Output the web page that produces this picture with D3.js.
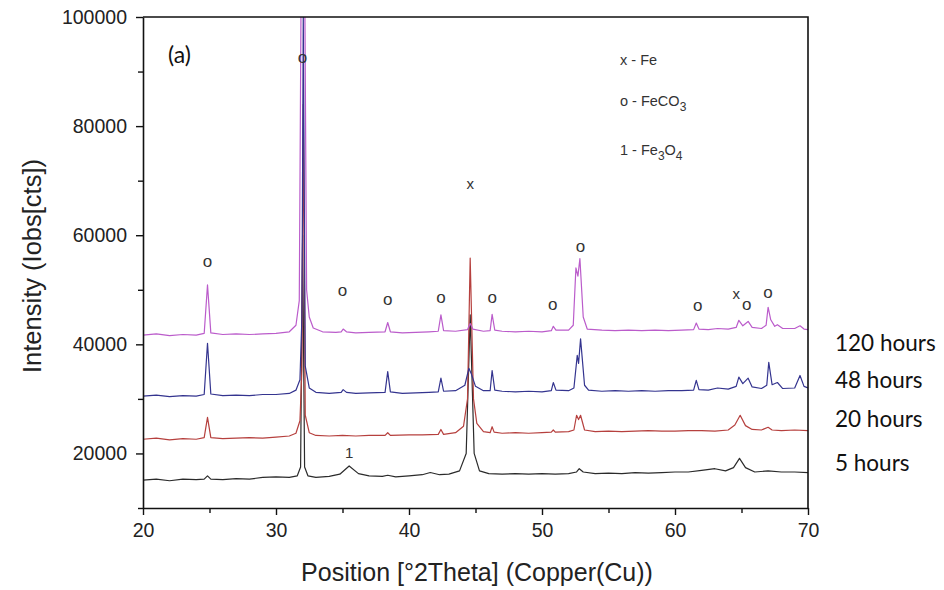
<!DOCTYPE html>
<html>
<head>
<meta charset="utf-8">
<script src="https://cdn.jsdelivr.net/npm/d3@7"></script>
<style>
  body { margin: 0; background: #fff; }
  svg { display: block; }
</style>
</head>
<body>
<div id="chart"></div>
<script>
// XRD patterns, [2theta, counts]
const hours5 = [
  [20, 15100], [21, 15300], [22, 15000], [23, 15300], [24, 15200], [24.6, 15300], [24.85, 15900], [25.1, 15300],
  [26, 15200], [27, 15400], [28, 15300], [29, 15600], [30, 15700], [31, 15600], [31.6, 15900], [31.85, 17500],
  [32.0, 60000], [32.15, 17500], [32.4, 15900], [33, 15600], [34, 15800], [34.8, 16200], [35.5, 17700], [36.2, 16300],
  [37, 15900], [38, 15800], [38.4, 16000], [39, 15700], [40, 15900], [41, 16100], [41.6, 16500], [42.3, 16100],
  [43, 16200], [43.8, 16800], [44.3, 20000], [44.6, 45400], [44.9, 20000], [45.3, 16800], [46, 16300], [47, 16200],
  [48, 16300], [49, 16200], [50, 16300], [51, 16200], [52, 16300], [52.6, 16600], [52.8, 17200], [53.1, 16600],
  [54, 16300], [55, 16400], [56, 16300], [57, 16500], [58, 16400], [59, 16500], [60, 16600], [61, 16600],
  [62, 16900], [63, 17200], [63.8, 16800], [64.4, 17400], [64.85, 19100], [65.3, 17400], [66, 16600], [67, 16800],
  [68, 16600], [69, 16600], [70, 16500]
];
const hours20 = [
  [20, 22600], [21, 22800], [22, 22500], [23, 22700], [24, 22600], [24.6, 22900], [24.85, 26600], [25.1, 22900],
  [26, 22700], [27, 22800], [28, 22900], [29, 22800], [30, 23000], [31, 23200], [31.5, 23700], [31.8, 26000],
  [31.95, 35500], [32.05, 84000], [32.2, 27000], [32.5, 23800], [33, 23300], [34, 23200], [35, 23300], [36, 23200],
  [37, 23300], [38.2, 23300], [38.4, 23800], [38.6, 23300], [40, 23400], [41, 23400], [42.2, 23500], [42.4, 24400],
  [42.6, 23500], [43.5, 23800], [44.1, 25000], [44.4, 30000], [44.6, 55800], [44.85, 30000], [45.1, 25500], [45.6, 24000],
  [46.1, 23800], [46.25, 24900], [46.4, 23900], [47, 23700], [48, 23800], [49, 23700], [50, 23800], [50.7, 23900],
  [50.85, 24300], [51, 23900], [52, 24000], [52.4, 24300], [52.6, 27000], [52.75, 26200], [52.9, 27000], [53.2, 24300],
  [54, 24000], [55, 24100], [56, 24000], [57, 24100], [58, 24200], [59, 24100], [60, 24100], [61, 24200],
  [62, 24200], [63, 24100], [64, 24300], [64.5, 25200], [64.9, 27000], [65.3, 25100], [65.8, 24400], [66.5, 24300],
  [67.0, 24800], [67.3, 24300], [68, 24200], [69, 24300], [70, 24200]
];
const hours48 = [
  [20, 30500], [21, 30700], [22, 30400], [23, 30600], [24, 30500], [24.6, 30800], [24.85, 40200], [25.1, 30900],
  [26, 30600], [27, 30700], [28, 30600], [29, 30800], [30, 30800], [31, 31000], [31.5, 31600], [31.8, 33500],
  [31.95, 45000], [32.05, 100500], [32.2, 36000], [32.5, 32000], [33, 31200], [34, 31000], [34.9, 31200], [35.05, 31700],
  [35.3, 31200], [36, 31000], [37, 31100], [38.2, 31200], [38.4, 35000], [38.6, 31300], [39.5, 31000], [40.5, 31100],
  [41.5, 31200], [42.2, 31300], [42.4, 33800], [42.6, 31400], [43.5, 31500], [44.2, 32500], [44.5, 35600], [44.7, 34500],
  [45, 32300], [45.6, 31500], [46.1, 31500], [46.25, 35200], [46.45, 31600], [47, 31400], [48, 31300], [49, 31400],
  [50, 31300], [50.7, 31500], [50.85, 33000], [51.05, 31600], [52, 31500], [52.4, 32000], [52.65, 38000], [52.75, 36500],
  [52.9, 41000], [53.2, 32500], [53.5, 31600], [54.5, 31400], [55.5, 31500], [56.5, 31400], [57.5, 31500], [58.5, 31400],
  [59.5, 31500], [60.5, 31500], [61.4, 31600], [61.6, 33400], [61.8, 31700], [62.5, 31600], [63.2, 32000], [64, 31800],
  [64.6, 32300], [64.8, 34000], [65.1, 32800], [65.5, 33800], [65.8, 32200], [66.5, 31900], [66.9, 32500], [67.05, 36700],
  [67.3, 32600], [67.7, 33000], [68.1, 31900], [69, 32000], [69.4, 34300], [69.7, 32300], [70, 32000]
];
const hours120 = [
  [20, 41700], [21, 41900], [22, 41600], [23, 41800], [24, 41700], [24.6, 42000], [24.85, 50900], [25.1, 42100],
  [26, 41800], [27, 41900], [28, 41800], [29, 41900], [30, 42000], [31, 42300], [31.5, 43500], [31.75, 48000],
  [31.9, 110000], [32.15, 110000], [32.3, 50000], [32.5, 45000], [32.8, 43000], [33.5, 42300], [34.5, 42200], [34.9, 42300],
  [35.05, 42800], [35.3, 42300], [36, 42100], [37, 42200], [38.2, 42300], [38.4, 44000], [38.6, 42300], [39.5, 42100],
  [40.5, 42200], [41.5, 42300], [42.2, 42400], [42.4, 45400], [42.6, 42500], [43.5, 42400], [44.4, 42700], [44.6, 43800],
  [44.8, 42800], [45.6, 42400], [46.1, 42500], [46.25, 45500], [46.45, 42600], [47, 42400], [48, 42300], [49, 42400],
  [50, 42300], [50.7, 42500], [50.85, 43300], [51.05, 42600], [52, 42600], [52.35, 43500], [52.55, 54000], [52.7, 52500],
  [52.85, 55700], [53.1, 45000], [53.4, 42800], [54.5, 42600], [55.5, 42500], [56.5, 42600], [57.5, 42500], [58.5, 42600],
  [59.5, 42500], [60.5, 42600], [61.4, 42700], [61.6, 43900], [61.8, 42800], [62.5, 42700], [63.2, 42900], [64, 42800],
  [64.6, 43100], [64.8, 44400], [65.1, 43400], [65.5, 44200], [65.8, 43100], [66.5, 42900], [66.85, 43500], [67.0, 46800],
  [67.2, 44500], [67.5, 43300], [67.7, 43600], [68.1, 42900], [69, 42900], [69.4, 43400], [69.7, 42800], [70, 42700]
];

const seriesNames = ["5 hours", "20 hours", "48 hours", "120 hours"];
const seriesColors = ["#2b2b2b", "#b6403e", "#34348f", "#bb5ccb"];
// where each name sits on the right (counts)
const seriesLabelY = [18200, 26200, 33500, 40200];

const xTicks = [20, 30, 40, 50, 60, 70];
const xMinor = [25, 35, 45, 55, 65];
const yTicks = [20000, 40000, 60000, 80000, 100000];
const yMinor = [10000, 30000, 50000, 70000, 90000];

// phase markers above the peaks: symbol, 2theta, counts
const markers = [
  ["o", 24.85, 55300], ["o", 32.0, 92600], ["o", 35.0, 50000], ["o", 38.4, 48300],
  ["o", 42.4, 48700], ["x", 44.6, 69500], ["o", 46.25, 48700], ["o", 50.8, 47400],
  ["o", 52.9, 58000], ["o", 61.7, 47200], ["x", 64.6, 49300], ["o", 65.4, 47400],
  ["o", 67.0, 49600], ["1", 35.5, 20200]
];

const width = 944
const height = 590
const margin = { left: 143, top: 17, right: 136, bottom: 82 }
const innerW = width - margin.left - margin.right
const innerH = height - margin.top - margin.bottom

const svg = d3.select("#chart")
  .append("svg")
  .attr("width", width)
  .attr("height", height)

const x = d3.scaleLinear().domain([20, 70]).range([margin.left, margin.left + innerW])
const y = d3.scaleLinear().domain([10000, 100000]).range([margin.top + innerH, margin.top])

svg.append("clipPath")
  .attr("id", "plot-clip")
  .append("rect")
  .attr("x", margin.left)
  .attr("y", margin.top)
  .attr("width", innerW)
  .attr("height", innerH)

// patterns
const line = d3.line()
  .x(d => x(d[0]))
  .y(d => y(d[1]))

const allSeries = [hours5, hours20, hours48, hours120];

svg.append("g")
  .attr("clip-path", "url(#plot-clip)")
  .selectAll("path")
  .data(allSeries)
  .enter()
  .append("path")
  .attr("fill", "none")
  .attr("stroke", (d, i) => seriesColors[i])
  .attr("stroke-width", 1.2)
  .attr("stroke-linejoin", "round")
  .attr("d", line)

// frame
svg.append("path")
  .attr("fill", "none")
  .attr("stroke", "#111")
  .attr("stroke-width", 1.6)
  .attr("d", "M" + margin.left + "," + margin.top + "H" + (margin.left + innerW) + "V" + (margin.top + innerH))

// axes
const tickFont = "'Liberation Sans', Arial, sans-serif"

svg.append("g")
  .attr("transform", "translate(0," + (margin.top + innerH) + ")")
  .call(d3.axisBottom(x).tickValues(xTicks).tickSize(7).tickSizeOuter(0).tickPadding(8))
svg.append("g")
  .attr("transform", "translate(0," + (margin.top + innerH) + ")")
  .call(d3.axisBottom(x).tickValues(xMinor).tickSize(5).tickSizeOuter(0).tickFormat(""))
  .call(g => g.select(".domain").remove())

svg.append("g")
  .attr("transform", "translate(" + margin.left + ",0)")
  .call(d3.axisLeft(y).tickValues(yTicks).tickSize(7).tickSizeOuter(0).tickPadding(9).tickFormat(d3.format("d")))
svg.append("g")
  .attr("transform", "translate(" + margin.left + ",0)")
  .call(d3.axisLeft(y).tickValues(yMinor).tickSize(5).tickSizeOuter(0).tickFormat(""))
  .call(g => g.select(".domain").remove())

svg.selectAll(".domain").attr("stroke", "#111").attr("stroke-width", 1.6)
svg.selectAll(".tick line").attr("stroke", "#111").attr("stroke-width", 1.4)
svg.selectAll(".tick text")
  .attr("font-family", tickFont)
  .attr("font-size", "19.5px")
  .attr("fill", "#222")

// axis titles
svg.append("text")
  .attr("x", 477)
  .attr("y", 581)
  .attr("text-anchor", "middle")
  .attr("font-family", tickFont)
  .attr("font-size", "25px")
  .attr("fill", "#222")
  .text("Position [°2Theta] (Copper(Cu))")

svg.append("text")
  .attr("transform", "translate(41,266) rotate(-90)")
  .attr("text-anchor", "middle")
  .attr("font-family", tickFont)
  .attr("font-size", "25.5px")
  .attr("fill", "#222")
  .text("Intensity (Iobs[cts])")

// panel tag
svg.append("text")
  .attr("x", 168)
  .attr("y", 63)
  .attr("font-family", "Lato, 'Noto Sans', sans-serif")
  .attr("font-size", "23px")
  .attr("fill", "#111")
  .text("(a)")

// peak markers
svg.append("g")
  .selectAll("text")
  .data(markers)
  .enter()
  .append("text")
  .attr("x", d => x(d[1]))
  .attr("y", d => y(d[2]))
  .attr("dy", "0.35em")
  .attr("text-anchor", "middle")
  .attr("font-family", tickFont)
  .attr("font-size", d => d[0] == "o" ? "17px" : "15px")
  .attr("fill", "#333")
  .text(d => d[0])

// phase key
const key = svg.append("g")
  .attr("font-family", tickFont)
  .attr("font-size", "14.5px")
  .attr("fill", "#333")

const k1 = key.append("text").attr("x", 620).attr("y", 65)
k1.append("tspan").text("x - Fe")

const k2 = key.append("text").attr("x", 620).attr("y", 106)
k2.append("tspan").text("o - FeCO")
k2.append("tspan").attr("dy", 5).attr("font-size", "12px").text("3")

const k3 = key.append("text").attr("x", 620).attr("y", 155)
k3.append("tspan").text("1 - Fe")
k3.append("tspan").attr("dy", 5).attr("font-size", "12px").text("3")
k3.append("tspan").attr("dy", -5).text("O")
k3.append("tspan").attr("dy", 5).attr("font-size", "12px").text("4")

// series names on the right
svg.append("g")
  .selectAll("text")
  .data(seriesNames)
  .enter()
  .append("text")
  .attr("x", 835)
  .attr("y", (d, i) => y(seriesLabelY[i]))
  .attr("dy", "0.35em")
  .attr("font-family", "Lato, 'Noto Sans', sans-serif")
  .attr("font-size", "22.5px")
  .attr("fill", "#111")
  .text(d => d)
</script>
</body>
</html>
